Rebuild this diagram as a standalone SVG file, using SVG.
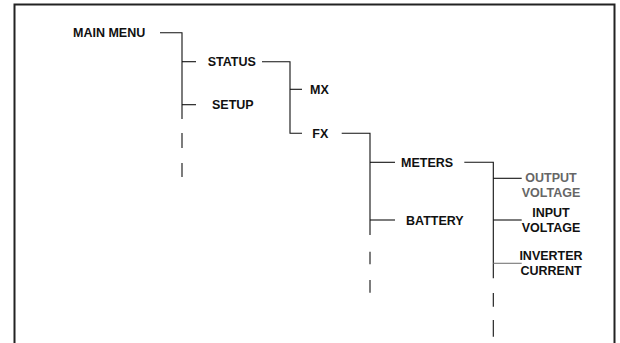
<svg xmlns="http://www.w3.org/2000/svg" width="620" height="343" viewBox="0 0 620 343">
<style>
text{font-family:"Liberation Sans",Arial,sans-serif;font-weight:bold;font-size:12.5px;fill:#111}
.g{fill:#666}
.c line,.c path{stroke:#111;stroke-width:1.1;fill:none}
.c .gl{stroke:#777}
.m{text-anchor:middle}
</style>
<rect width="620" height="343" fill="#fff"/>
<path d="M14.5,343 V4.5 H614.5 V343" fill="none" stroke="#222" stroke-width="2"/>
<g class="c" id="connectors">
<path d="M160,32.7 H182 V119"/>
<line x1="182" y1="133" x2="182" y2="148"/>
<line x1="182" y1="163" x2="182" y2="177"/>
<line x1="182" y1="61.7" x2="196" y2="61.7"/>
<line x1="182" y1="104.7" x2="196" y2="104.7"/>
<path d="M262,61.7 H290 V133.3 H302"/>
<line x1="290" y1="89.3" x2="302" y2="89.3"/>
<path d="M341.7,133.3 H370 V235"/>
<line x1="370" y1="251.7" x2="370" y2="264.3"/>
<line x1="370" y1="280" x2="370" y2="292.7"/>
<line x1="370" y1="162.3" x2="395" y2="162.3"/>
<line x1="370" y1="220" x2="395" y2="220"/>
<path d="M464.3,162.3 H493.3 V278.3"/>
<line x1="493.3" y1="293" x2="493.3" y2="306.7"/>
<line x1="493.3" y1="320" x2="493.3" y2="336.7"/>
<line x1="493.3" y1="178.3" x2="521.7" y2="178.3"/>
<line x1="493.3" y1="220" x2="521.7" y2="220"/>
<line class="gl" x1="493.3" y1="263.3" x2="521.7" y2="263.3"/>
</g>
<g id="main-menu"><text x="73" y="37.3">MAIN MENU</text></g>
<g id="status"><text x="207.7" y="66.2">STATUS</text></g>
<g id="setup"><text x="212" y="109.2">SETUP</text></g>
<g id="mx"><text x="310" y="93.8">MX</text></g>
<g id="fx"><text x="312.3" y="137.8">FX</text></g>
<g id="meters"><text x="401" y="166.8">METERS</text></g>
<g id="battery"><text x="406" y="224.5">BATTERY</text></g>
<g id="output-voltage"><text class="m g" x="551" y="182.2">OUTPUT</text><text class="m g" x="551" y="197.2">VOLTAGE</text></g>
<g id="input-voltage"><text class="m" x="551" y="216.8">INPUT</text><text class="m" x="551" y="232">VOLTAGE</text></g>
<g id="inverter-current"><text class="m" x="551" y="259.6">INVERTER</text><text class="m" x="551" y="275">CURRENT</text></g>
</svg>
